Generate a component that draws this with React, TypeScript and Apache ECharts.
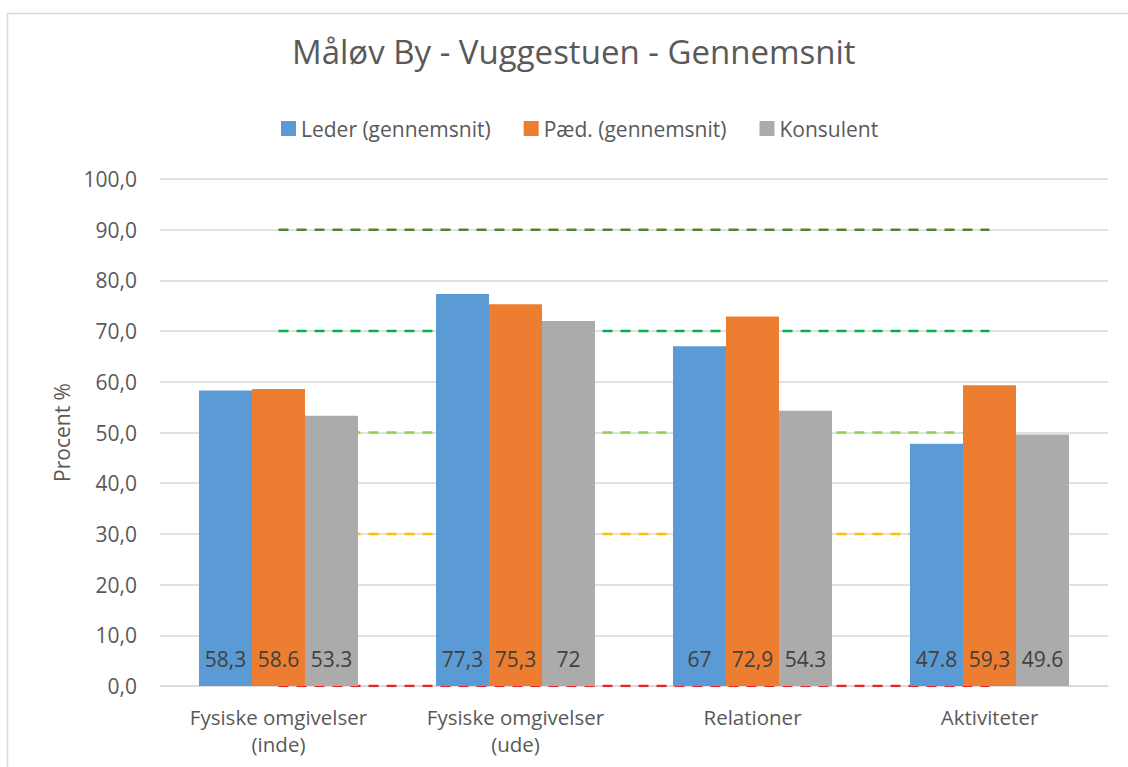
import React, { useEffect, useRef } from "react";
import * as echarts from "echarts";

const categories = ["Fysiske omgivelser\n(inde)", "Fysiske omgivelser\n(ude)", "Relationer", "Aktiviteter"];
const lederValues = [58.3, 77.3, 67, 47.8];
const paedValues = [58.6, 75.3, 72.9, 59.3];
const konsulentValues = [53.3, 72, 54.3, 49.6];
const lederLabels = ["58,3", "77,3", "67", "47.8"];
const paedLabels = ["58.6", "75,3", "72,9", "59,3"];
const konsulentLabels = ["53.3", "72", "54.3", "49.6"];
const refLevels = [90, 70, 50, 30, 0];
const refColors = ["#548235", "#00b050", "#92d050", "#ffc000", "#e8262a"];
const seriesNames = ["Leder (gennemsnit)", "Pæd. (gennemsnit)", "Konsulent"];
const seriesColors = ["#5b9bd5", "#ed7d31", "#ababab"];

const FONT = "'Open Sans', 'Noto Sans', sans-serif";

export default function App() {
  const ref = useRef<HTMLDivElement>(null);
  useEffect(() => {
    if (!ref.current) return;
    const chart = echarts.init(ref.current, null, { renderer: "svg" });
    const barData = [lederValues, paedValues, konsulentValues];
    const barLabels = [lederLabels, paedLabels, konsulentLabels];
    const bars = barData.map((vals, i) => ({
      name: seriesNames[i],
      type: "bar",
      data: vals,
      barWidth: 53,
      barGap: "0%",
      z: 3,
      itemStyle: { color: seriesColors[i] },
      label: {
        show: true,
        position: "insideBottom",
        distance: 17,
        fontSize: 21,
        fontFamily: FONT,
        color: "#404040",
        formatter: (p: any) => barLabels[i][p.dataIndex],
      },
    }));
    const lines = refLevels.map((lv, i) => ({
      name: "ref" + lv,
      type: "line",
      data: categories.map(() => lv),
      symbol: "none",
      silent: true,
      z: 1,
      lineStyle: { color: refColors[i], width: 2.5, type: [10, 8] },
    }));
    chart.setOption({
      animation: false,
      backgroundColor: "#ffffff",
      textStyle: { fontFamily: FONT },
      title: {
        text: "Måløv By - Vuggestuen - Gennemsnit",
        left: 287,
        top: 30,
        textStyle: { fontSize: 33, fontWeight: "normal", color: "#595959", fontFamily: FONT },
      },
      legend: {
        data: seriesNames,
        top: 113,
        left: 276,
        itemWidth: 15,
        itemHeight: 15,
        itemGap: 33,
        icon: "rect",
        textStyle: { fontSize: 21, color: "#595959", fontFamily: FONT },
      },
      graphic: [
        {
          type: "rect",
          shape: { x: 7.5, y: 13.5, width: 1300, height: 900 },
          style: { fill: "none", stroke: "#d9d9d9", lineWidth: 1.5 },
          silent: true,
        },
      ],
      grid: { left: 160, right: 20, top: 179, bottom: 81 },
      xAxis: {
        type: "category",
        data: categories,
        axisTick: { show: false },
        axisLine: { lineStyle: { color: "#d9d9d9", width: 1.5 } },
        axisLabel: { fontSize: 20.5, color: "#595959", lineHeight: 27, margin: 17, fontFamily: FONT },
      },
      yAxis: {
        type: "value",
        min: 0,
        max: 100,
        interval: 10,
        name: "Procent %",
        nameLocation: "middle",
        nameGap: 88,
        nameTextStyle: { fontSize: 21, color: "#595959", fontFamily: FONT },
        axisLine: { show: false },
        axisTick: { show: false },
        splitLine: { lineStyle: { color: "#d9d9d9", width: 1.5 } },
        axisLabel: {
          fontSize: 21,
          color: "#595959",
          margin: 23,
          fontFamily: FONT,
          formatter: (v: number) => v.toFixed(1).replace(".", ","),
        },
      },
      series: [...bars, ...lines],
    });
    return () => chart.dispose();
  }, []);
  return (
    <div
      ref={ref}
      style={{ position: "absolute", left: 0, top: 0, width: 1128, height: 767 }}
    />
  );
}
